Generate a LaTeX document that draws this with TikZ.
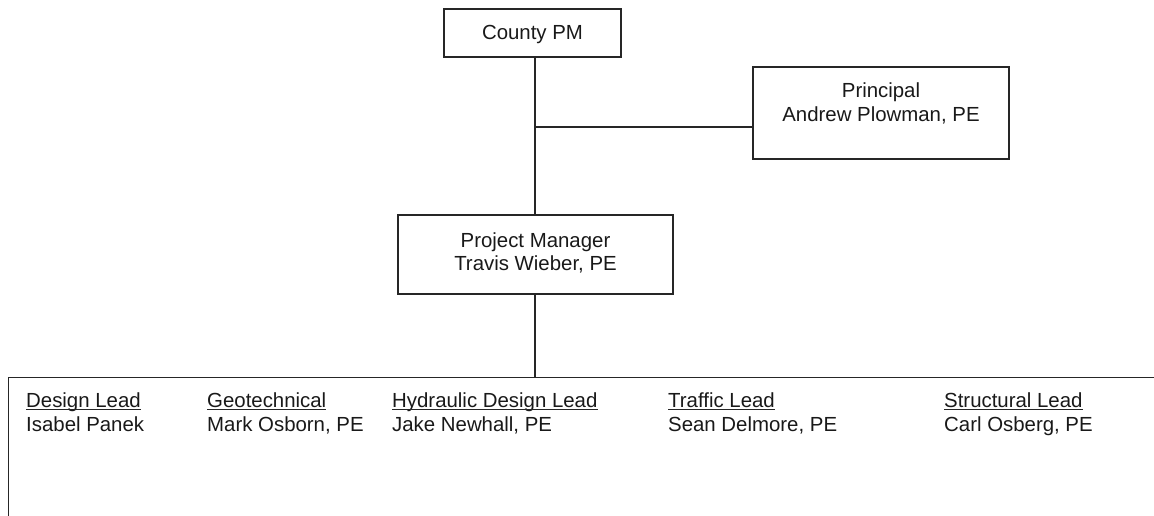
\documentclass[tikz,border=0pt]{standalone}
\usepackage{fontspec}
\setmainfont{Liberation Sans}
\begin{document}
\begin{tikzpicture}[x=1pt,y=-1pt,
  box/.style={draw=black!85, line width=1.4pt, inner sep=0pt, minimum width=#1},
  txt/.style={inner sep=0pt, anchor=base, font=\fontsize{20.4}{23}\selectfont, text=black!90},
  ltxt/.style={inner sep=0pt, anchor=base west, font=\fontsize{20.4}{23}\selectfont, text=black!90},
  conn/.style={draw=black!85, line width=1.4pt},
  uline/.style={draw=black!85, line width=1.2pt}]
\useasboundingbox (0,0) rectangle (1154,515);
\clip (0,0) rectangle (1154,515);
% boxes
\node[box=177pt, minimum height=48pt] (county) at (532.5,33) {};
\node[box=256pt, minimum height=92pt] (principal) at (881,113) {};
\node[box=275pt, minimum height=79pt] (pm) at (535.5,254.5) {};
\node[draw=black!85, line width=1.4pt, inner sep=0pt, minimum width=1200pt, minimum height=200pt, anchor=north west] (team) at (8,377) {};
% texts
\node[txt] (countyT) at (532.5,39) {County PM};
\node[txt] (principalT1) at (881,97) {Principal};
\node[txt] (principalT2) at (881,121) {Andrew Plowman, PE};
\node[txt] (pmT1) at (535.5,247) {Project Manager};
\node[txt] (pmT2) at (535.5,270) {Travis Wieber, PE};
% team
\node[ltxt] (r1) at (26,407) {Design Lead};
\node[ltxt] (n1) at (26,431) {Isabel Panek};
\node[ltxt] (r2) at (207,407) {Geotechnical};
\node[ltxt] (n2) at (207,431) {Mark Osborn, PE};
\node[ltxt] (r3) at (392,407) {Hydraulic Design Lead};
\node[ltxt] (n3) at (392,431) {Jake Newhall, PE};
\node[ltxt] (r4) at (668,407) {Traffic Lead};
\node[ltxt] (n4) at (668,431) {Sean Delmore, PE};
\node[ltxt] (r5) at (944,407) {Structural Lead};
\node[ltxt] (n5) at (944,431) {Carl Osberg, PE};
\foreach \r in {r1,r2,r3,r4,r5}
  \draw[uline] ([yshift=-2.8pt]\r.base west) -- ([yshift=-2.8pt]\r.base east);
% connectors
\coordinate (top) at (535,57);
\coordinate (j) at (535,127);
\draw[conn] (top) -- (top |- pm.north);
\draw[conn] (j) -- (j -| principal.west);
\draw[conn] (top |- pm.south) -- (top |- team.north);
\end{tikzpicture}
\end{document}
